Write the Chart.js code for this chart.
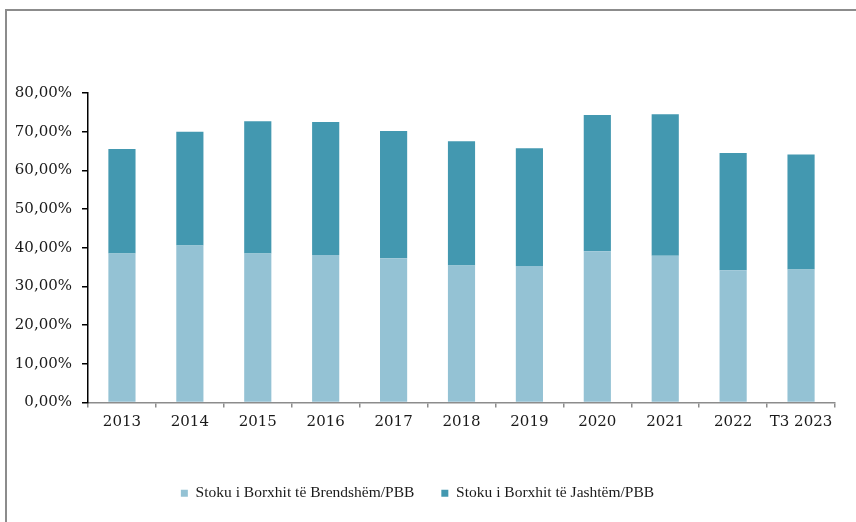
<!DOCTYPE html>
<html>
<head>
<meta charset="utf-8">
<script src="https://cdn.jsdelivr.net/npm/chart.js@4"></script>
<style>
  html, body { margin: 0; padding: 0; background: #fff; }
  #wrap { position: relative; width: 856px; height: 522px; }
  #frame { position: absolute; left: 5px; top: 9px; right: 0; bottom: 0;
           border-left: 2px solid #8c8c8c; border-top: 2px solid #8c8c8c; }
  canvas { position: absolute; left: 0; top: 0; }
</style>
</head>
<body>
<div id="wrap">
  <div id="frame"></div>
  <canvas id="debtChart" width="856" height="522"></canvas>
</div>
<script>
// data (% of GDP)
var years = ['2013', '2014', '2015', '2016', '2017', '2018', '2019', '2020', '2021', '2022', 'T3 2023'];
var domestic = [38.5, 40.6, 38.5, 38.1, 37.3, 35.4, 35.3, 39.1, 37.9, 34.2, 34.4];
var external = [27.0, 29.4, 34.2, 34.4, 32.9, 32.1, 30.4, 35.2, 36.6, 30.3, 29.7];
var yTicks = [0, 10, 20, 30, 40, 50, 60, 70, 80];

var tickFont = { family: 'DejaVu Serif', size: 15 };

var ctx = document.getElementById('debtChart').getContext('2d');
var debtChart = new Chart(ctx, {
type: 'bar',
data: {
    labels: years,
    datasets: [{
        label: 'Stoku i Borxhit të Brendshëm/PBB',
        data: domestic,
        backgroundColor: '#94c2d4'
    }, {
        label: 'Stoku i Borxhit të Jashtëm/PBB',
        data: external,
        backgroundColor: '#4398b0'
    }]
},
options: {
    responsive: false,
    animation: false,
    layout: {
        padding: { top: 93, right: 21, bottom: 11, left: 0 }
    },
    datasets: {
        bar: { categoryPercentage: 0.8, barPercentage: 0.5 }
    },
    scales: {
        x: {
            stacked: true,
            grid: {
                offset: true,
                drawOnChartArea: false,
                drawTicks: true,
                tickLength: 5,
                color: '#8c8c8c',
                lineWidth: 1.5
            },
            border: { color: '#8c8c8c', width: 1.5 },
            ticks: { font: tickFont, color: '#1a1a1a', padding: 6, maxRotation: 0 },
            afterFit: function(scale) { scale.height += 21; }
        },
        y: {
            stacked: true,
            min: 0,
            max: 80,
            afterBuildTicks: function(scale) {
                scale.ticks = yTicks.map(function(v) { return { value: v }; });
            },
            grid: {
                drawOnChartArea: false,
                drawTicks: true,
                tickLength: 6,
                color: '#000',
                lineWidth: 1.5
            },
            border: { color: '#000', width: 1.5 },
            ticks: {
                font: tickFont,
                color: '#1a1a1a',
                padding: 10,
                callback: function(v) { return v.toFixed(2).replace('.', ',') + '%'; }
            },
            afterFit: function(scale) { scale.width = 88; }
        }
    },
    plugins: {
        legend: {
            position: 'bottom',
            maxWidth: 822,
            labels: {
                boxWidth: 7,
                boxHeight: 7,
                padding: 27,
                color: '#1a1a1a',
                font: { family: 'Liberation Serif', size: 15.5 }
            }
        },
        tooltip: { enabled: false }
    }
}
});
</script>
</body>
</html>
